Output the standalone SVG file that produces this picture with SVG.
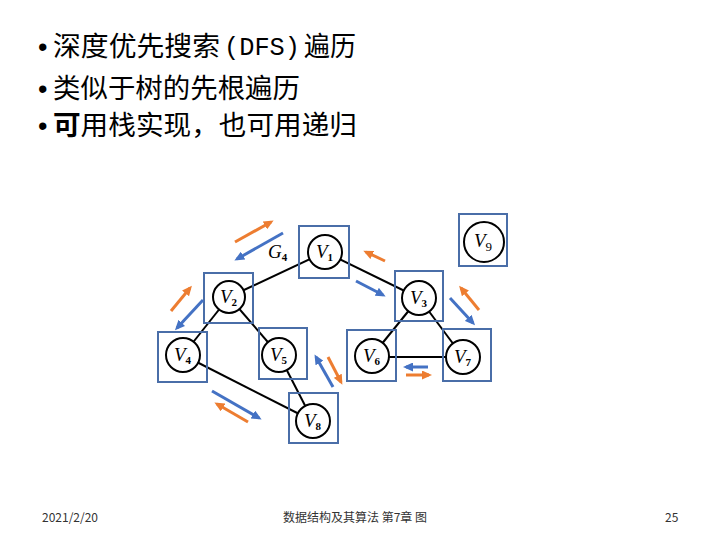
<svg xmlns="http://www.w3.org/2000/svg" width="720" height="540" viewBox="0 0 720 540">
<style>
.t{font-family:"Noto Sans CJK SC","Liberation Sans",sans-serif;font-size:27px;fill:#000}
.m{font-family:"Liberation Mono","DejaVu Sans Mono",monospace;font-size:25px;fill:#000}
.b{font-family:"Liberation Sans",sans-serif;font-size:27px;fill:#000}
.f{font-family:"Noto Sans CJK SC","Liberation Sans",sans-serif;font-size:12px;fill:#333}
.box{fill:none;stroke:#4a6ea8;stroke-width:2}
.c{fill:#fff;stroke:#000;stroke-width:2}
.lbl{font-family:"Liberation Serif","Times New Roman",serif;font-style:italic;font-size:19px;fill:#000}
.sub{font-style:normal;font-weight:bold;font-size:11px}
.e{stroke:#000;stroke-width:2}
.ab{stroke:#4472c4;stroke-width:3;marker-end:url(#hb)}
.ao{stroke:#ed7d31;stroke-width:3;marker-end:url(#ho)}
</style>
<defs>
<marker id="hb" markerUnits="userSpaceOnUse" markerWidth="10" markerHeight="9" refX="7" refY="4.5" orient="auto"><path d="M0,0 L10,4.5 L0,9 z" fill="#4472c4"/></marker>
<marker id="ho" markerUnits="userSpaceOnUse" markerWidth="10" markerHeight="9" refX="7" refY="4.5" orient="auto"><path d="M0,0 L10,4.5 L0,9 z" fill="#ed7d31"/></marker>
</defs>
<rect width="720" height="540" fill="#fff"/>
<g id="title">
<text class="b" x="38" y="56">•</text>
<text class="t" x="53" y="56" textLength="167" lengthAdjust="spacingAndGlyphs">深度优先搜索</text>
<text class="m" x="224" y="55" textLength="76" lengthAdjust="spacingAndGlyphs">(DFS)</text>
<text class="t" x="304" y="56" textLength="52" lengthAdjust="spacingAndGlyphs">遍历</text>
<text class="b" x="38" y="98">•</text>
<text class="t" x="53" y="98" textLength="247" lengthAdjust="spacingAndGlyphs">类似于树的先根遍历</text>
<text class="b" x="38" y="135">•</text>
<text class="t" x="53" y="135" textLength="304" lengthAdjust="spacingAndGlyphs"><tspan font-weight="bold">可</tspan>用栈实现，也可用递归</text>
</g>
<g id="edges">
<line class="e" x1="325" y1="252" x2="229" y2="297"/>
<line class="e" x1="325" y1="252" x2="419" y2="298"/>
<line class="e" x1="229" y1="297" x2="183" y2="355"/>
<line class="e" x1="229" y1="297" x2="279" y2="355"/>
<line class="e" x1="419" y1="298" x2="372" y2="356"/>
<line class="e" x1="419" y1="298" x2="463" y2="357"/>
<line class="e" x1="372" y1="357" x2="463" y2="357"/>
<line class="e" x1="279" y1="355" x2="313" y2="421"/>
<line class="e" x1="183" y1="355" x2="313" y2="421"/>
</g>
<g id="V1"><rect class="box" x="299" y="226" width="50" height="52"/><circle class="c" cx="325" cy="252" r="17"/><text class="lbl" x="316" y="258">V<tspan class="sub" dy="3">1</tspan></text></g>
<g id="V2"><rect class="box" x="204" y="273" width="49" height="50"/><circle class="c" cx="229" cy="297" r="16"/><text class="lbl" x="220" y="303">V<tspan class="sub" dy="3">2</tspan></text></g>
<g id="V3"><rect class="box" x="395" y="271" width="48" height="50"/><circle class="c" cx="419" cy="298" r="17"/><text class="lbl" x="410" y="304">V<tspan class="sub" dy="3">3</tspan></text></g>
<g id="V4"><rect class="box" x="158" y="332" width="49" height="50"/><circle class="c" cx="183" cy="355" r="17"/><text class="lbl" x="174" y="361">V<tspan class="sub" dy="3">4</tspan></text></g>
<g id="V5"><rect class="box" x="259" y="328" width="48" height="51"/><circle class="c" cx="279" cy="355" r="17"/><text class="lbl" x="270" y="361">V<tspan class="sub" dy="3">5</tspan></text></g>
<g id="V6"><rect class="box" x="347" y="330" width="49" height="51"/><circle class="c" cx="372" cy="356" r="17"/><text class="lbl" x="363" y="362">V<tspan class="sub" dy="3">6</tspan></text></g>
<g id="V7"><rect class="box" x="443" y="329" width="48" height="52"/><circle class="c" cx="463" cy="357" r="17"/><text class="lbl" x="454" y="363">V<tspan class="sub" dy="3">7</tspan></text></g>
<g id="V8"><rect class="box" x="289" y="393" width="49" height="50"/><circle class="c" cx="313" cy="421" r="17"/><text class="lbl" x="304" y="427">V<tspan class="sub" dy="3">8</tspan></text></g>
<g id="V9"><rect class="box" x="459" y="214" width="48" height="52"/><circle class="c" cx="484" cy="242" r="20"/><text class="lbl" x="474" y="247" font-size="18">V<tspan font-style="normal" font-size="13" dy="4">9</tspan></text></g>
<g id="G4"><text class="lbl" x="268" y="258">G<tspan class="sub" dy="3">4</tspan></text></g>
<g id="arrows">
<line class="ao" x1="235" y1="242" x2="271" y2="222"/>
<line class="ab" x1="283" y1="233" x2="237" y2="259"/>
<line class="ao" x1="171" y1="311" x2="190" y2="288"/>
<line class="ab" x1="203" y1="300" x2="177" y2="328"/>
<line class="ao" x1="385" y1="261" x2="366" y2="252"/>
<line class="ab" x1="356" y1="281" x2="383" y2="295"/>
<line class="ao" x1="479" y1="310" x2="461" y2="288"/>
<line class="ab" x1="450" y1="298" x2="473" y2="323"/>
<line class="ab" x1="212" y1="391" x2="259" y2="418"/>
<line class="ao" x1="248" y1="422" x2="217" y2="404"/>
<line class="ab" x1="333" y1="387" x2="316" y2="357"/>
<line class="ao" x1="328" y1="357" x2="341" y2="382"/>
<line class="ab" x1="428" y1="367" x2="406" y2="367"/>
<line class="ao" x1="406" y1="375" x2="429" y2="375"/>
</g>
<g id="footer">
<text class="f" x="42" y="522">2021/2/20</text>
<text class="f" x="283" y="522">数据结构及其算法 第7章 图</text>
<text class="f" x="665" y="522">25</text>
</g>
</svg>
